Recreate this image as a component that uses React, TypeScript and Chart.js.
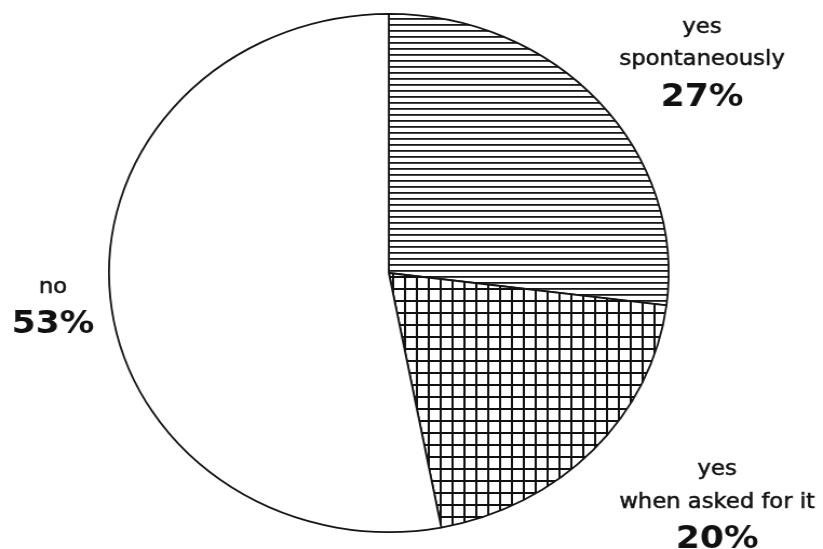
import React, { useEffect, useRef } from 'react';
import { Chart, registerables } from 'chart.js';

Chart.register(...registerables);

// ---- data ----
const categories = ['yes spontaneously', 'yes when asked for it', 'no'];
const labelLines = [['yes', 'spontaneously'], ['yes', 'when asked for it'], ['no']];
const percents = [27, 20, 53];

// ---- layout (internal canvas is stretched horizontally to look like the reference ellipse) ----
const CANVAS_W = 762;
const CANVAS_H = 549;
const DISPLAY_W = 823;
const DISPLAY_H = 549;

// label anchors relative to pie centre (internal px): x centre, baselines of text lines + percent line
const labelLayout = [
  { dx: 290, lines: [-240, -208], pct: -167 },
  { dx: 304, lines: [202, 235], pct: 275 },
  { dx: -311, lines: [20], pct: 60 },
];

function hatchPattern(ctx: CanvasRenderingContext2D): CanvasPattern | string {
  const c = document.createElement('canvas');
  c.width = 8;
  c.height = 6;
  const g = c.getContext('2d')!;
  g.fillStyle = '#ffffff';
  g.fillRect(0, 0, 8, 6);
  g.fillStyle = '#1a1a1a';
  g.fillRect(0, 0, 8, 1.8);
  return ctx.createPattern(c, 'repeat') || '#fff';
}

function gridPattern(ctx: CanvasRenderingContext2D): CanvasPattern | string {
  const c = document.createElement('canvas');
  c.width = 11;
  c.height = 12;
  const g = c.getContext('2d')!;
  g.fillStyle = '#ffffff';
  g.fillRect(0, 0, 11, 12);
  g.fillStyle = '#111111';
  g.fillRect(0, 0, 11, 2);
  g.fillRect(0, 0, 2, 12);
  return ctx.createPattern(c, 'repeat') || '#fff';
}

const labelPlugin = {
  id: 'sliceLabels',
  afterDatasetsDraw(chart: any) {
    const meta = chart.getDatasetMeta(0);
    const arc = meta.data[0];
    if (!arc) return;
    const cx = arc.x;
    const cy = arc.y;
    const ctx = chart.ctx as CanvasRenderingContext2D;
    ctx.save();
    ctx.fillStyle = '#111111';
    ctx.strokeStyle = '#111111';
    ctx.lineWidth = 0.5;
    ctx.textAlign = 'center';
    ctx.textBaseline = 'alphabetic';
    labelLayout.forEach((lay, i) => {
      ctx.font = '21px "DejaVu Sans", sans-serif';
      labelLines[i].forEach((t, j) => {
        ctx.fillText(t, cx + lay.dx, cy + lay.lines[j]);
        ctx.strokeText(t, cx + lay.dx, cy + lay.lines[j]);
      });
      ctx.font = 'bold 32px "DejaVu Sans", sans-serif';
      ctx.fillText(percents[i] + '%', cx + lay.dx, cy + lay.pct);
    });
    ctx.restore();
  },
};

export default function App() {
  const ref = useRef<HTMLCanvasElement | null>(null);

  useEffect(() => {
    const canvas = ref.current;
    if (!canvas) return;
    const ctx = canvas.getContext('2d')!;
    const chart = new Chart(canvas, {
      type: 'pie',
      data: {
        labels: categories,
        datasets: [
          {
            data: percents,
            backgroundColor: [hatchPattern(ctx), gridPattern(ctx), '#ffffff'],
            borderColor: '#151515',
            borderWidth: 1.8,
            hoverOffset: 0,
          },
        ],
      },
      options: {
        responsive: false,
        animation: false,
        devicePixelRatio: 1,
        layout: { padding: { left: 100, right: 142, top: 13, bottom: 16 } },
        plugins: {
          legend: { display: false },
          tooltip: { enabled: false },
        },
        events: [],
      },
      plugins: [labelPlugin],
    });
    return () => chart.destroy();
  }, []);

  return (
    <div style={{ position: 'fixed', left: 0, top: 0, width: DISPLAY_W, height: DISPLAY_H, background: '#fff' }}>
      <canvas
        ref={ref}
        width={CANVAS_W}
        height={CANVAS_H}
        style={{ width: DISPLAY_W + 'px', height: DISPLAY_H + 'px', display: 'block' }}
      />
    </div>
  );
}
